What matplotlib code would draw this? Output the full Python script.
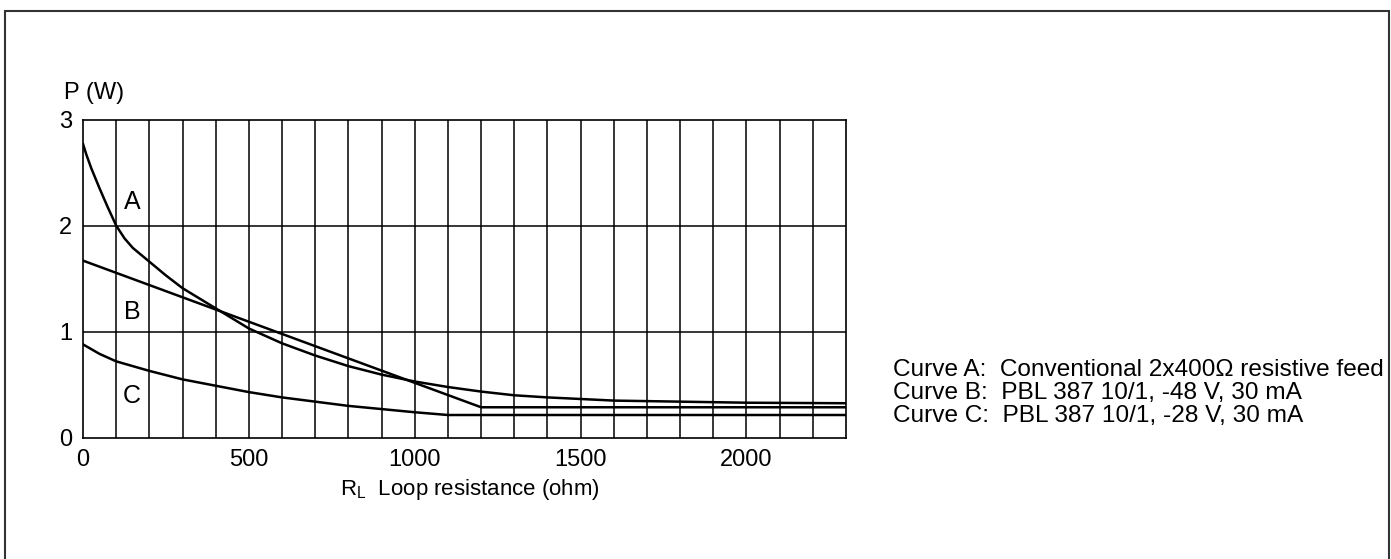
import numpy as np
import matplotlib.pyplot as plt
from matplotlib.patches import Rectangle

plt.rcParams['font.family'] = ['Liberation Sans', 'DejaVu Sans']

# curve A: conventional 2x400 ohm resistive feed
rA = [0, 10, 25, 50, 75, 100, 125, 150, 200, 250, 300, 400, 500, 600, 700,
      800, 900, 1000, 1100, 1200, 1300, 1400, 1500, 1600, 1800, 2000, 2300]
pA = [2.77, 2.67, 2.54, 2.35, 2.17, 2.0, 1.88, 1.79, 1.66, 1.53, 1.41, 1.22,
      1.03, 0.89, 0.775, 0.675, 0.595, 0.53, 0.478, 0.435, 0.40, 0.38, 0.365,
      0.35, 0.34, 0.33, 0.325]

# curve B: PBL 387 10/1, -48 V
rB = [0, 1200, 2300]
pB = [1.67, 0.287, 0.287]

# curve C: PBL 387 10/1, -28 V
rC = [0, 50, 100, 200, 300, 400, 500, 600, 700, 800, 900, 1000, 1100, 2300]
pC = [0.88, 0.79, 0.72, 0.63, 0.55, 0.49, 0.43, 0.38, 0.34, 0.30, 0.27,
      0.24, 0.214, 0.214]

xticks = [0, 500, 1000, 1500, 2000]
yticks = [0, 1, 2, 3]
legend_lines = ["Curve A:  Conventional 2x400\u03a9 resistive feed",
                "Curve B:  PBL 387 10/1, -48 V, 30 mA",
                "Curve C:  PBL 387 10/1, -28 V, 30 mA"]

fig = plt.figure(figsize=(13.91, 5.59), dpi=100)
ax = fig.add_axes([0.0597, 0.217, 0.5485, 0.569])

# grid
for x in range(100, 2300, 100):
    ax.axvline(x, color='black', lw=1.1, zorder=1)
for y in [1, 2]:
    ax.axhline(y, color='black', lw=1.1, zorder=1)

ax.plot(rA, pA, color='black', lw=1.8, zorder=3)
ax.plot(rB, pB, color='black', lw=1.8, zorder=3)
ax.plot(rC, pC, color='black', lw=1.8, zorder=3)

ax.text(148, 2.22, 'A', fontsize=18, ha='center', va='center')
ax.text(148, 1.19, 'B', fontsize=18, ha='center', va='center')
ax.text(148, 0.39, 'C', fontsize=18, ha='center', va='center')

ax.set_xlim(0, 2300)
ax.set_ylim(0, 3)
ax.set_xticks(xticks)
ax.set_yticks(yticks)
ax.tick_params(length=0, labelsize=17, pad=8)
for s in ax.spines.values():
    s.set_linewidth(1.2)

ax.text(0.0144, 1.083, 'P (W)', transform=ax.transAxes, fontsize=17,
        ha='center', va='center')
ax.set_xlabel('R$_\\mathregular{L}$  Loop resistance (ohm)', fontsize=16)
ax.xaxis.set_label_coords(0.507, -0.123)

for i, line in enumerate(legend_lines):
    fig.text(0.642, 0.338 - i * 0.041, line, fontsize=17.6, va='center')

fig.patches.append(Rectangle((5 / 1391, -0.05), 1384 / 1391, 1.0 - 11 / 559 + 0.05,
                             transform=fig.transFigure, fill=False,
                             edgecolor='#333333', lw=1.5))

fig.savefig('out.png', dpi=100)
